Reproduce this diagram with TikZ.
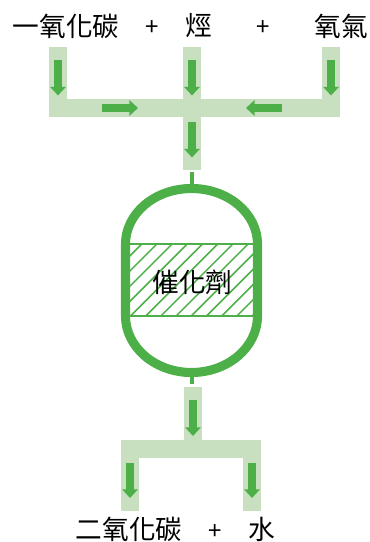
\documentclass[tikz,border=0pt]{standalone}
\usepackage{fontspec}
\setmainfont{Noto Sans CJK TC}
\usepackage{xcolor}
\usetikzlibrary{arrows.meta, positioning}
\definecolor{flowgreen}{HTML}{4CAF47}
\definecolor{pipegreen}{HTML}{C8E0BF}
\tikzstyle{chem} = [inner sep=0pt, font=\fontsize{20pt}{20pt}\selectfont, text=black]
\tikzstyle{plus} = [inner sep=0pt, font=\fontsize{18pt}{18pt}\selectfont, text=black]
\tikzstyle{pipe} = [draw=pipegreen, line width=13.5pt, line join=miter, line cap=butt]
\tikzstyle{arrow} = [draw=flowgreen, line width=5.5pt, -{Triangle[width=11.5pt,length=6.5pt]}]
\tikzstyle{stem} = [draw=flowgreen, line width=3.4pt]
\tikzstyle{bed} = [draw=flowgreen, line width=1.15pt]

\begin{document}
\begin{tikzpicture}[x=0.75pt,y=-0.75pt]
	\useasboundingbox (0,0) rectangle (370,542);

	% Labels
	\node (co) [chem] at (66,26) {一氧化碳};
	\node (plus_a) [plus] at (152,28) {+};
	\node (hc) [chem] at (199,26) {烴};
	\node (plus_b) [plus] at (263,28) {+};
	\node (oxygen) [chem] at (341,26) {氧氣};
	\node (cotwo) [chem] at (129,529) {二氧化碳};
	\node (plus_c) [plus] at (215,532) {+};
	\node (water) [chem] at (262,529) {水};

	% Pipe points
	\coordinate (in_left) at (58,47);
	\coordinate (in_mid) at (192,47);
	\coordinate (in_right) at (331,47);
	\coordinate (join_left) at (58,108);
	\coordinate (join_right) at (331,108);
	\coordinate (in_end) at (192,170);
	\coordinate (out_top) at (193,387);
	\coordinate (out_mid) at (193,449);
	\coordinate (out_left) at (130,449);
	\coordinate (out_right) at (252,449);
	\coordinate (out_left_end) at (130,511);
	\coordinate (out_right_end) at (252,511);

	% Pipes
	\draw [pipe] (in_left) -- (join_left) -- (join_right) -- (in_right);
	\draw [pipe] (in_mid) -- (in_end);
	\draw [pipe] (out_left_end) -- (out_left) -- (out_right) -- (out_right_end);
	\draw [pipe] (out_top) -- (out_mid);

	% Arrows
	\draw [arrow] (58,60) -- (58,95.5);
	\draw [arrow] (192,60) -- (192,95.5);
	\draw [arrow] (331,60) -- (331,95.5);
	\draw [arrow] (102,108) -- (138,108);
	\draw [arrow] (282,108) -- (246,108);
	\draw [arrow] (192,122) -- (192,157.5);
	\draw [arrow] (193,400) -- (193,436);
	\draw [arrow] (130,463) -- (130,498);
	\draw [arrow] (252,463) -- (252,498);

	% Reactor
	\coordinate (stem_top) at (192,172);
	\coordinate (shell_top) at (192,188);
	\coordinate (shell_bottom) at (192,373);
	\coordinate (stem_bottom) at (192,384);
	\draw [stem] (stem_top) -- (shell_top);
	\draw [stem] (shell_bottom) -- (stem_bottom);

	% Catalyst bed
	\begin{scope}
		\clip (130,244) rectangle (253,316);
		\foreach \k in {-1,...,12}
			\draw [bed] ({141.7+15.2*\k},244) -- ({69.7+15.2*\k},316);
	\end{scope}
	\draw [bed] (130,244) -- (253,244);
	\draw [bed] (130,316) -- (253,316);
	\draw [flowgreen, line width=6.8pt] (125.5,244) arc [start angle=180, end angle=360, x radius=66, y radius=55.5] -- (257.5,316) arc [start angle=0, end angle=180, x radius=66, y radius=56.5] -- cycle;
	\node (catalyst) [chem] at (192.5,282) {催化劑};
\end{tikzpicture}
\end{document}
